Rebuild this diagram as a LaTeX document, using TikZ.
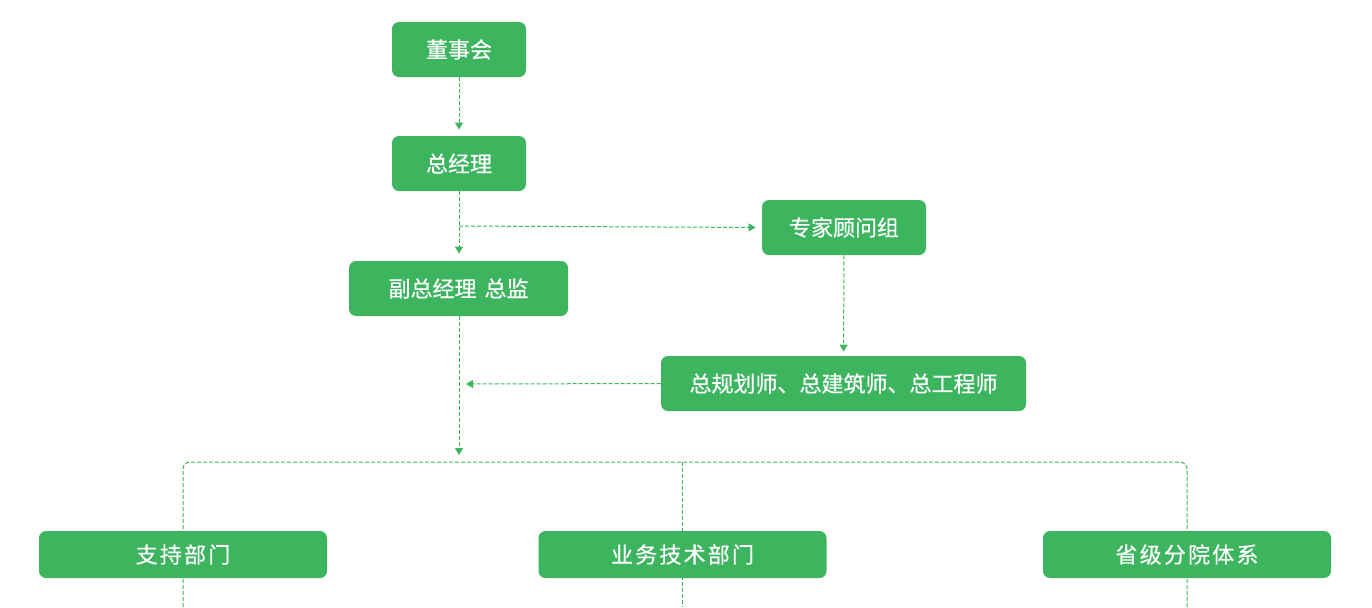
\documentclass[tikz,border=0pt]{standalone}
\usepackage{fontspec}
\usepackage{tikz}
\usepackage{xcolor}
\usetikzlibrary{arrows.meta}
\newfontfamily\cjk[FakeBold=0.4]{Noto Sans CJK SC}
\newfontfamily\cjkwide[LetterSpace=10, FakeBold=0.4]{Noto Sans CJK SC}
\definecolor{boxgreen}{HTML}{3DB55F}

\begin{document}
\begin{tikzpicture}[x=0.5pt, y=-0.5pt,
    box/.style={rectangle, rounded corners=3.5pt, fill=boxgreen, text=white,
      inner sep=0pt, minimum height=27.5pt, font=\cjk\fontsize{11}{13}\selectfont},
    dept/.style={box, minimum width=144pt, minimum height=23.5pt,
      font=\cjkwide\fontsize{11}{13}\selectfont},
    link/.style={draw=boxgreen, line width=0.5pt, dash pattern=on 2pt off 1pt,
      -{Triangle[length=3.5pt, width=4pt]}},
    bus/.style={draw=boxgreen, line width=0.5pt, dash pattern=on 2pt off 1pt}]
  \useasboundingbox (0,0) rectangle (1372,607);

  % bus to the departments
  \coordinate (busl) at (183,462);
  \coordinate (busm) at (682,462);
  \coordinate (busr) at (1187,462);
  \coordinate (endl) at (183,607);
  \coordinate (endm) at (682,607);
  \coordinate (endr) at (1187,607);
  \draw[bus, rounded corners=3.5pt] (endl) -- (busl) -- (busr) -- (endr);
  \draw[bus] (busm) -- (endm);

  \node[box, minimum width=67pt] (board) at (459,49.5) {董事会};
  \node[box, minimum width=67pt] (gm) at (459,163.5) {总经理};
  \node[box, minimum width=82pt] (experts) at (844,227.5) {专家顾问组};
  \node[box, minimum width=109.5pt] (deputy) at (458.5,288.5) {副总经理\hspace{4pt}总监};
  \node[box, minimum width=182.5pt] (chiefs) at (843.5,383.5) {总规划师、总建筑师、总工程师};

  \node[dept] (support) at (183,554.5) {支持部门};
  \node[dept] (business) at (682.5,554.5) {业务技术部门};
  \node[dept] (branches) at (1187,554.5) {省级分院体系};

  \coordinate (split) at (459,226);
  \coordinate (join) at (466,384);

  \draw[link, shorten >=3pt] (board) -- (gm);
  \draw[link, shorten >=3.5pt] (gm.south) -- (deputy.north -| gm.south);
  \draw[link, shorten >=3pt] (split) -- (experts.west);
  \draw[link, shorten >=2pt] (experts) -- (chiefs);
  \draw[link] (chiefs.west) -- (join);
  \draw[link, shorten >=3.5pt] (deputy.south -| gm.south) -- (gm.south |- busl);
\end{tikzpicture}
\end{document}
